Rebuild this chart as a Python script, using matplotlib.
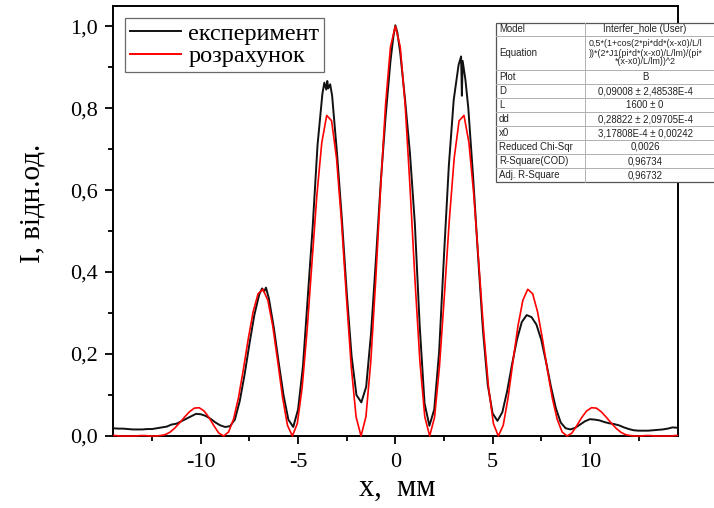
import numpy as np
import matplotlib
matplotlib.use("Agg")
import matplotlib.pyplot as plt
from matplotlib.ticker import FixedLocator, FixedFormatter, MultipleLocator
from matplotlib.patches import Rectangle
from matplotlib.lines import Line2D

# ---------------- data ----------------
# calculated curve (розрахунок), sampled on a uniform grid
red_x = np.linspace(-14.62, 14.62, 117)
red_y = [
    0.002, 0.001, 0.000, 0.000, 0.000, 0.000, 0.001, 0.001, 0.000, 0.000,
    0.001, 0.003, 0.009, 0.019, 0.032, 0.046, 0.059, 0.068, 0.069, 0.061,
    0.045, 0.025, 0.007, 0.000, 0.010, 0.041, 0.093, 0.162, 0.237, 0.303,
    0.347, 0.358, 0.331, 0.268, 0.183, 0.094, 0.026, 0.000, 0.030, 0.119,
    0.257, 0.424, 0.588, 0.716, 0.782, 0.769, 0.678, 0.526, 0.343, 0.170,
    0.046, 0.000, 0.047, 0.183, 0.381, 0.605, 0.808, 0.949,
    1.000,
    0.949, 0.808, 0.605, 0.381, 0.183, 0.047, 0.000, 0.046, 0.170, 0.343,
    0.526, 0.678, 0.769, 0.782, 0.716, 0.588, 0.424, 0.257, 0.119, 0.030,
    0.000, 0.026, 0.094, 0.183, 0.268, 0.331, 0.358, 0.347, 0.303, 0.237,
    0.162, 0.093, 0.041, 0.010, 0.000, 0.007, 0.025, 0.045, 0.061, 0.069,
    0.068, 0.059, 0.046, 0.032, 0.019, 0.009, 0.003, 0.001, 0.000, 0.000,
    0.001, 0.001, 0.000, 0.000, 0.000, 0.000, 0.001, 0.002,
]

# experimental curve (експеримент)
black_x = [
    -14.53, -14.25, -14.0, -13.75, -13.5, -13.25, -13.0, -12.75, -12.5, -12.25,
    -12.0, -11.75, -11.5, -11.25, -11.0, -10.75, -10.5, -10.25, -10.0, -9.75,
    -9.5, -9.25, -9.0, -8.75, -8.5, -8.25, -8.0, -7.75, -7.5, -7.25,
    -7.0, -6.85, -6.75, -6.65, -6.5, -6.25, -6.0, -5.75, -5.5, -5.25,
    -5.0, -4.75, -4.5, -4.25, -4.0, -3.75, -3.65, -3.55, -3.5, -3.45,
    -3.35, -3.25, -3.0, -2.75, -2.5, -2.25, -2.0, -1.75, -1.5, -1.25,
    -1.0, -0.75, -0.5, -0.25, -0.1, 0.0, 0.1, 0.25, 0.5, 0.75,
    1.0, 1.25, 1.5, 1.75, 2.0, 2.25, 2.5, 2.75, 3.0, 3.25,
    3.38, 3.42, 3.46, 3.6, 3.75, 4.0, 4.25, 4.5, 4.75, 5.0,
    5.25, 5.5, 5.75, 6.0, 6.25, 6.5, 6.75, 7.0, 7.25, 7.5,
    7.75, 8.0, 8.25, 8.5, 8.75, 9.0, 9.25, 9.5, 9.75, 10.0,
    10.25, 10.5, 10.75, 11.0, 11.25, 11.5, 11.75, 12.0, 12.25, 12.5,
    12.75, 13.0, 13.25, 13.5, 13.75, 14.0, 14.25, 14.53,
]
black_y = [
    0.019, 0.018, 0.018, 0.017, 0.016, 0.016, 0.016, 0.017, 0.017, 0.019,
    0.021, 0.023, 0.028, 0.030, 0.036, 0.042, 0.048, 0.054, 0.053, 0.049,
    0.042, 0.033, 0.026, 0.022, 0.024, 0.040, 0.085, 0.150, 0.225, 0.295,
    0.345, 0.360, 0.352, 0.362, 0.335, 0.265, 0.180, 0.100, 0.040, 0.022,
    0.065, 0.170, 0.340, 0.510, 0.710, 0.835, 0.862, 0.845, 0.866, 0.848,
    0.858, 0.830, 0.690, 0.530, 0.350, 0.195, 0.100, 0.082, 0.120, 0.250,
    0.430, 0.620, 0.780, 0.915, 0.975, 1.002, 0.985, 0.935, 0.820, 0.690,
    0.520, 0.270, 0.080, 0.025, 0.065, 0.205, 0.440, 0.660, 0.820, 0.905,
    0.926, 0.830, 0.915, 0.870, 0.800, 0.630, 0.440, 0.260, 0.125, 0.055,
    0.037, 0.058, 0.110, 0.175, 0.235, 0.278, 0.295, 0.290, 0.272, 0.235,
    0.180, 0.120, 0.068, 0.033, 0.019, 0.016, 0.020, 0.028, 0.036, 0.041,
    0.040, 0.038, 0.034, 0.031, 0.029, 0.026, 0.021, 0.017, 0.014, 0.013,
    0.013, 0.013, 0.014, 0.015, 0.016, 0.018, 0.021, 0.020,
]

x_ticks = [-10, -5, 0, 5, 10]
x_tick_labels = ["-10", "-5", "0", "5", "10"]
y_ticks = [0.0, 0.2, 0.4, 0.6, 0.8, 1.0]
y_tick_labels = ["0,0", "0,2", "0,4", "0,6", "0,8", "1,0"]

legend_labels = ["експеримент", "розрахунок"]
x_label = "x,  мм"
y_label = "I, відн.од."

table_names = ["Model", "Equation", "Plot", "D", "L", "dd", "x0",
               "Reduced Chi-Sqr", "R-Square(COD)", "Adj. R-Square"]
table_values = ["Interfer_hole (User)", None, "B",
                "0,09008 ± 2,48538E-4", "1600 ± 0",
                "0,28822 ± 2,09705E-4", "3,17808E-4 ± 0,00242",
                "0,0026", "0,96734", "0,96732"]
equation_lines = ["0,5*(1+cos(2*pi*dd*(x-x0)/L/l",
                  "))*(2*J1(pi*d*(x-x0)/L/lm)/(pi*",
                  "*(x-x0)/L/lm))^2"]

# ---------------- figure ----------------
W, H = 714, 508
fig = plt.figure(figsize=(W / 100, H / 100), dpi=100)
fig.patch.set_facecolor("white")

def fx(px):
    return px / W

def fy(py):
    return 1 - py / H

ax_l, ax_r, ax_t, ax_b = 112.7, 678.0, 6.0, 436.0
ax = fig.add_axes([fx(ax_l), fy(ax_b), (ax_r - ax_l) / W, (ax_b - ax_t) / H])

serif = ["Liberation Serif", "DejaVu Serif"]
sans = ["Liberation Sans", "DejaVu Sans"]

clip = Rectangle((0, -0.05), 1, 1.1, transform=ax.transAxes)
l1, = ax.plot(black_x, black_y, color="#111111", lw=1.4, zorder=3,
              label=legend_labels[0])
l2, = ax.plot(red_x, red_y, color="#ff0000", lw=1.2, zorder=4,
              label=legend_labels[1])
for ln in (l1, l2):
    ln.set_clip_path(clip)

ax.set_xlim(-14.53, 14.53)
ax.set_ylim(0, 1.049)

ax.xaxis.set_major_locator(FixedLocator(x_ticks))
ax.xaxis.set_major_formatter(FixedFormatter(x_tick_labels))
ax.xaxis.set_minor_locator(MultipleLocator(2.5))
ax.yaxis.set_major_locator(FixedLocator(y_ticks))
ax.yaxis.set_major_formatter(FixedFormatter(y_tick_labels))
ax.yaxis.set_minor_locator(MultipleLocator(0.1))

ax.tick_params(which="both", direction="out", top=False, right=False,
               width=1.3, color="black")
ax.tick_params(which="major", length=6)
ax.tick_params(which="minor", length=3.5)
ax.tick_params(axis="x", which="major", pad=6)
ax.tick_params(axis="y", which="major", pad=5)
for lab in ax.get_xticklabels() + ax.get_yticklabels():
    lab.set_fontfamily(serif)
    lab.set_fontsize(16)

for sp in ax.spines.values():
    sp.set_linewidth(1.4)
    sp.set_color("black")

ax.set_xlabel(x_label, fontsize=22, family=serif)
ax.set_ylabel(y_label, fontsize=21, family=serif)
ax.xaxis.set_label_coords(0.503, -0.088)
ax.yaxis.set_label_coords(-0.118, 0.542)

leg = ax.legend(loc="upper left", bbox_to_anchor=(0.0218, 0.972),
                borderaxespad=0, frameon=True, fancybox=False,
                prop={"family": serif, "size": 17.5},
                handlelength=2.1, handletextpad=0.3, labelspacing=0.02,
                borderpad=0.2)
leg.get_frame().set_edgecolor("#444444")
leg.get_frame().set_linewidth(0.9)
for h in leg.get_lines():
    h.set_linewidth(1.4)

# ---------------- fit results table ----------------
t_left, t_mid, t_right = 496, 585, 730
row_edges = [23, 36, 70, 84, 98, 112, 126, 140, 154, 168, 182]
fig.add_artist(Rectangle((fx(t_left), fy(row_edges[-1])),
                         (t_right - t_left) / W,
                         (row_edges[-1] - row_edges[0]) / H,
                         transform=fig.transFigure, facecolor="white",
                         edgecolor="#555555", lw=0.9, zorder=10))
for ye in row_edges[1:-1]:
    fig.add_artist(Line2D([fx(t_left), fx(t_right)], [fy(ye), fy(ye)],
                          transform=fig.transFigure, color="#b0b0b0",
                          lw=0.7, zorder=11))
fig.add_artist(Line2D([fx(t_mid), fx(t_mid)], [fy(row_edges[0]), fy(row_edges[-1])],
                      transform=fig.transFigure, color="#b0b0b0", lw=0.7, zorder=11))

val_cx = 645
fs_t = 6.9
for i, name in enumerate(table_names):
    yc = (row_edges[i] + row_edges[i + 1]) / 2
    fig.text(fx(t_left + 3), fy(yc), name, ha="left", va="center",
             fontsize=fs_t, family=sans, color="#222222", zorder=12)
    val = table_values[i]
    if val is not None:
        fig.text(fx(val_cx), fy(yc), val, ha="center", va="center",
                 fontsize=fs_t, family=sans, color="#222222", zorder=12)

eq_y = [44, 53, 62]
for j, line in enumerate(equation_lines):
    if j < 2:
        fig.text(fx(589), fy(eq_y[j]), line, ha="left", va="center",
                 fontsize=6.4, family=sans, color="#222222", zorder=12)
    else:
        fig.text(fx(val_cx), fy(eq_y[j]), line, ha="center", va="center",
                 fontsize=6.4, family=sans, color="#222222", zorder=12)

fig.savefig("out.png", dpi=100, facecolor="white")
